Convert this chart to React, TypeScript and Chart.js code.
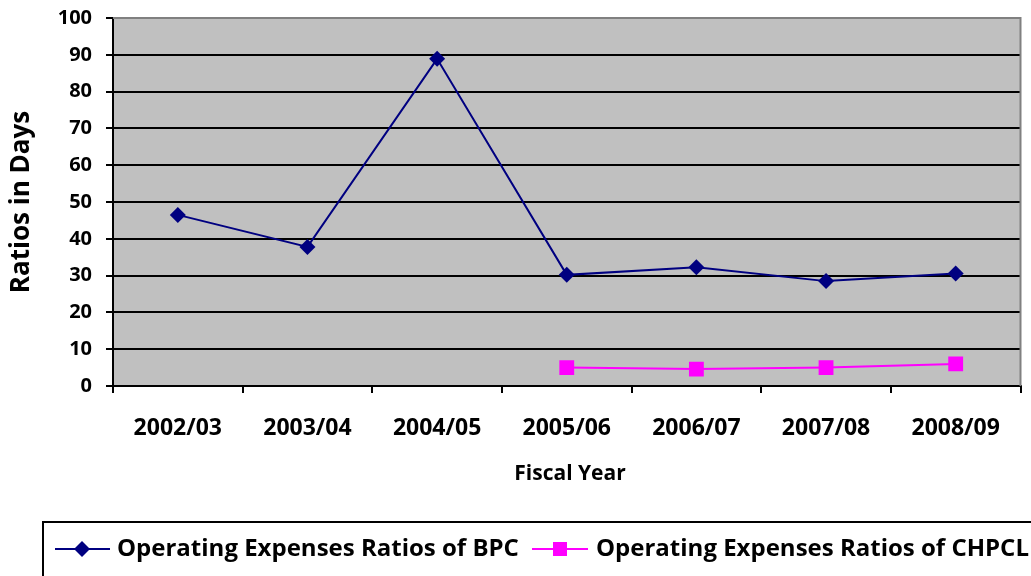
import React, { useEffect, useRef } from "react";
import { Chart, registerables } from "chart.js";

Chart.register(...registerables);

const categories = ["2002/03", "2003/04", "2004/05", "2005/06", "2006/07", "2007/08", "2008/09"];
const bpcValues = [46.5, 37.8, 88.9, 30.2, 32.3, 28.5, 30.6];
const chpclValues = [null, null, null, 5.0, 4.6, 5.0, 6.0];
const seriesNames = ["Operating Expenses Ratios of BPC", "Operating Expenses Ratios of CHPCL"];
const xTitle = "Fiscal Year";
const yTitle = "Ratios in Days";

const FONT = "'Open Sans', Lato, sans-serif";
const NAVY = "#000080";
const MAGENTA = "#FF00FF";

const decorPlugin = {
  id: "decor",
  beforeDraw(chart: any) {
    const { ctx, chartArea } = chart;
    ctx.save();
    ctx.fillStyle = "#C0C0C0";
    ctx.fillRect(chartArea.left, chartArea.top, chartArea.right - chartArea.left, chartArea.bottom - chartArea.top);
    ctx.restore();
  },
  afterDraw(chart: any) {
    const { ctx, chartArea } = chart;
    ctx.save();
    ctx.strokeStyle = "#808080";
    ctx.lineWidth = 2;
    ctx.beginPath();
    ctx.moveTo(chartArea.left, chartArea.top);
    ctx.lineTo(chartArea.right, chartArea.top);
    ctx.lineTo(chartArea.right, chartArea.bottom);
    ctx.stroke();

    ctx.fillStyle = "#000";
    ctx.font = `bold 21px ${FONT}`;
    ctx.textAlign = "center";
    ctx.textBaseline = "middle";
    ctx.fillText(xTitle, 570, 474);
    ctx.save();
    ctx.translate(22, 202);
    ctx.rotate(-Math.PI / 2);
    ctx.font = `bold 26px ${FONT}`;
    ctx.fillText(yTitle, 0, 0);
    ctx.restore();

    ctx.strokeStyle = "#000";
    ctx.lineWidth = 2;
    ctx.strokeRect(43, 522, 1000, 80);
    ctx.font = `bold 24px ${FONT}`;
    ctx.textAlign = "left";
    ctx.textBaseline = "middle";
    const ly = 549;
    ctx.strokeStyle = NAVY;
    ctx.lineWidth = 2;
    ctx.beginPath();
    ctx.moveTo(55, ly);
    ctx.lineTo(110, ly);
    ctx.stroke();
    ctx.fillStyle = NAVY;
    ctx.beginPath();
    ctx.moveTo(82, ly - 8);
    ctx.lineTo(90, ly);
    ctx.lineTo(82, ly + 8);
    ctx.lineTo(74, ly);
    ctx.closePath();
    ctx.fill();
    ctx.fillStyle = "#000";
    ctx.fillText(seriesNames[0], 117, ly);
    ctx.strokeStyle = MAGENTA;
    ctx.beginPath();
    ctx.moveTo(532, ly);
    ctx.lineTo(588, ly);
    ctx.stroke();
    ctx.fillStyle = MAGENTA;
    ctx.fillRect(553, ly - 7, 14, 14);
    ctx.fillStyle = "#000";
    ctx.fillText(seriesNames[1], 596, ly);
    ctx.restore();
  },
};

export default function App() {
  const ref = useRef<HTMLCanvasElement>(null);
  useEffect(() => {
    const chart = new Chart(ref.current!, {
      type: "line",
      data: {
        labels: categories,
        datasets: [
          {
            label: seriesNames[0],
            data: bpcValues,
            borderColor: NAVY,
            backgroundColor: NAVY,
            borderWidth: 2,
            pointStyle: "rectRot",
            pointRadius: 8,
            pointBorderWidth: 0,
            tension: 0,
          },
          {
            label: seriesNames[1],
            data: chpclValues as any,
            borderColor: MAGENTA,
            backgroundColor: MAGENTA,
            borderWidth: 2,
            pointStyle: "rect",
            pointRadius: 10.5,
            pointBorderWidth: 0,
            tension: 0,
          },
        ],
      },
      options: {
        animation: false,
        responsive: false,
        maintainAspectRatio: false,
        layout: { padding: { top: 18, right: 0, left: 0, bottom: 0 } },
        plugins: { legend: { display: false }, tooltip: { enabled: false } },
        scales: {
          x: {
            offset: true,
            grid: { offset: true, drawOnChartArea: false, color: "#000", lineWidth: 2, tickLength: 7 },
            border: { color: "#000", width: 2 },
            ticks: { color: "#000", font: { family: FONT, weight: "bold", size: 23 }, padding: 22, maxRotation: 0, autoSkip: false },
            afterFit(scale: any) {
              scale.height = 190;
              scale.paddingLeft = 0;
              scale.paddingRight = 0;
            },
          },
          y: {
            min: 0,
            max: 100,
            ticks: { stepSize: 10, color: "#000", font: { family: FONT, weight: "bold", size: 20 }, padding: 14 },
            grid: {
              color: (c: any) => (c.tick && c.tick.value === 100 ? "rgba(0,0,0,0)" : "#000"),
              lineWidth: 2,
              tickLength: 7,
              tickColor: "#000",
            },
            border: { color: "#000", width: 2 },
            afterFit(scale: any) {
              scale.width = 113;
              scale.paddingTop = 0;
              scale.paddingBottom = 0;
            },
          },
        },
      },
      plugins: [decorPlugin],
    });
    return () => chart.destroy();
  }, []);
  return (
    <div style={{ position: "absolute", left: 0, top: 0, width: 1031, height: 576, background: "#fff" }}>
      <canvas ref={ref} width={1031} height={576} style={{ width: 1031, height: 576 }} />
    </div>
  );
}
